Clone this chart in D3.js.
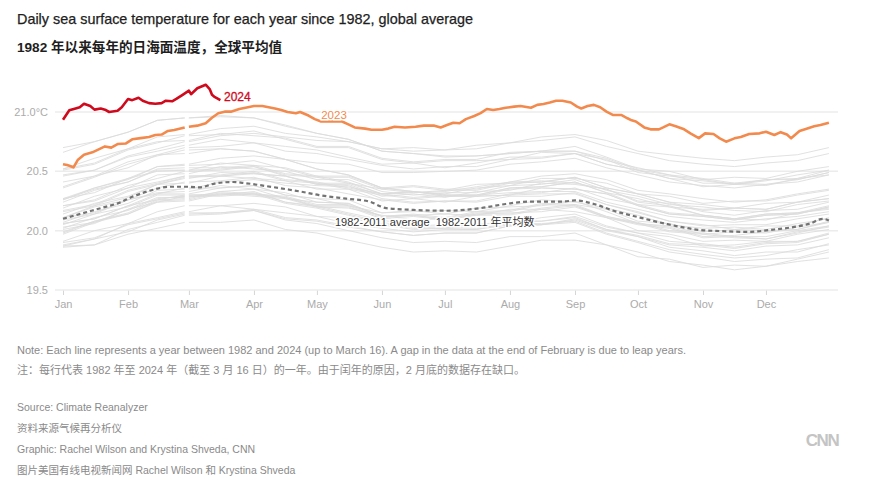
<!DOCTYPE html>
<html><head><meta charset="utf-8">
<script src="https://cdn.jsdelivr.net/npm/d3@7/dist/d3.min.js"></script>
<style>
body{margin:0;background:#fff;}
svg text{font-family:"Liberation Sans","Noto Sans CJK SC",Arial,sans-serif;white-space:pre;}
</style></head>
<body><svg id="c" width="870" height="492"></svg>
<script>
// ---- DATA ----
const monthNames = ["Jan","Feb","Mar","Apr","May","Jun","Jul","Aug","Sep","Oct","Nov","Dec"];
const monthStarts = [0,31,60,91,121,152,182,213,244,274,305,335];
const yTicks = [19.5,20.0,20.5,21.0];
const sampleDays = [0,15,31,45,58,60,75,91,106,121,136,152,167,182,197,213,228,244,259,274,289,305,320,335,350,365];

const y1982=[19.88,19.93,20.06,20.11,20.16,20.16,20.21,20.18,20.15,20.12,20.06,20.02,19.99,20.01,20.01,20.07,20.08,20.12,20.03,19.98,19.91,19.89,19.86,19.90,19.91,19.97];
const y1983=[20.02,20.11,20.17,20.27,20.29,20.29,20.30,20.33,20.24,20.21,20.15,20.09,20.04,20.05,20.04,20.09,20.08,20.11,20.01,19.95,19.86,19.83,19.79,19.82,19.82,19.89];
const y1984=[19.90,19.94,20.05,20.10,20.15,20.15,20.15,20.17,20.09,20.06,20.00,19.94,19.90,19.91,19.90,19.95,19.95,19.98,19.88,19.82,19.74,19.71,19.67,19.70,19.74,19.77];
const y1985=[19.86,19.88,19.97,20.02,20.07,20.07,20.07,20.09,20.01,19.98,19.92,19.86,19.82,19.83,19.82,19.87,19.92,19.92,19.88,19.78,19.76,19.69,19.71,19.70,19.76,19.82];
const y1986=[19.87,19.88,20.01,20.07,20.13,20.13,20.14,20.17,20.10,20.08,20.03,19.99,19.96,19.98,19.98,20.04,20.05,20.10,20.01,19.96,19.89,19.88,19.85,19.89,19.90,19.97];
const y1987=[19.98,20.08,20.15,20.26,20.27,20.27,20.33,20.31,20.29,20.22,20.22,20.12,20.14,20.11,20.16,20.17,20.23,20.22,20.18,20.08,20.06,19.99,20.01,20.00,20.01,20.07];
const y1988=[20.06,20.10,20.21,20.26,20.30,20.30,20.30,20.31,20.23,20.19,20.13,20.06,20.02,20.02,20.01,20.05,20.05,20.07,19.97,19.90,19.82,19.78,19.74,19.76,19.77,19.84];
const y1989=[19.87,19.93,19.99,20.09,20.14,20.14,20.15,20.18,20.11,20.09,20.04,19.99,19.96,19.98,19.98,20.04,20.05,20.09,20.00,19.95,19.88,19.86,19.83,19.87,19.88,19.94];
const y1990=[19.97,20.07,20.14,20.25,20.26,20.26,20.32,20.30,20.28,20.21,20.21,20.11,20.13,20.10,20.15,20.16,20.22,20.21,20.12,20.07,20.00,19.98,19.95,19.95,20.00,20.04];
const y1991=[20.03,20.07,20.18,20.28,20.28,20.28,20.33,20.35,20.27,20.24,20.23,20.12,20.13,20.14,20.13,20.18,20.18,20.21,20.11,20.05,20.02,19.94,19.95,19.93,19.98,20.04];
const y1992=[20.05,20.14,20.20,20.30,20.30,20.30,20.31,20.32,20.24,20.20,20.14,20.07,20.03,20.03,20.02,20.06,20.06,20.08,19.98,19.91,19.84,19.80,19.77,19.79,19.84,19.88];
const y1993=[19.91,20.00,20.06,20.16,20.21,20.21,20.21,20.23,20.20,20.12,20.11,20.05,20.01,20.02,20.06,20.06,20.11,20.14,20.04,19.98,19.95,19.87,19.88,19.91,19.91,19.98];
const y1994=[19.99,20.08,20.14,20.24,20.29,20.29,20.29,20.31,20.28,20.20,20.19,20.13,20.09,20.10,20.14,20.14,20.19,20.22,20.12,20.06,20.03,19.95,19.96,19.99,20.01,20.08];
const y1995=[20.09,20.14,20.26,20.32,20.33,20.33,20.38,20.35,20.32,20.24,20.23,20.12,20.13,20.09,20.13,20.13,20.18,20.16,20.11,20.00,19.97,19.91,19.92,19.91,19.97,20.01];
const y1996=[20.01,20.06,20.18,20.24,20.25,20.25,20.31,20.29,20.27,20.20,20.20,20.10,20.12,20.09,20.14,20.15,20.16,20.20,20.11,20.06,19.99,19.97,19.94,19.93,19.99,20.03];
const y1997=[20.07,20.16,20.23,20.34,20.35,20.35,20.41,20.43,20.40,20.38,20.37,20.31,20.32,20.33,20.37,20.41,20.46,20.48,20.43,20.34,20.31,20.27,20.24,20.26,20.31,20.35];
const y1998=[20.37,20.46,20.53,20.64,20.65,20.65,20.69,20.67,20.60,20.52,20.47,20.36,20.33,20.29,20.29,20.30,20.31,20.31,20.22,20.15,20.08,20.04,20.05,20.05,20.10,20.14];
const y1999=[20.11,20.15,20.26,20.31,20.36,20.36,20.36,20.38,20.30,20.27,20.21,20.15,20.17,20.14,20.19,20.20,20.21,20.25,20.16,20.06,20.04,19.97,19.99,19.98,20.03,20.07];
const y2000=[20.06,20.10,20.21,20.31,20.31,20.31,20.36,20.38,20.30,20.27,20.26,20.15,20.16,20.17,20.16,20.21,20.26,20.24,20.19,20.13,20.05,20.02,20.03,20.01,20.06,20.10];
const y2001=[20.11,20.21,20.28,20.39,20.40,20.40,20.46,20.44,20.42,20.35,20.35,20.25,20.27,20.24,20.29,20.30,20.36,20.35,20.31,20.21,20.14,20.12,20.09,20.13,20.14,20.20];
const y2002=[20.19,20.29,20.36,20.47,20.48,20.48,20.54,20.52,20.50,20.43,20.43,20.33,20.30,20.32,20.32,20.38,20.39,20.43,20.34,20.29,20.22,20.20,20.17,20.16,20.22,20.25];
const y2003=[20.27,20.32,20.44,20.50,20.51,20.51,20.57,20.55,20.48,20.46,20.41,20.31,20.33,20.30,20.30,20.36,20.37,20.41,20.32,20.22,20.20,20.13,20.10,20.14,20.15,20.21];
const y2004=[20.21,20.25,20.36,20.41,20.46,20.46,20.46,20.48,20.46,20.39,20.39,20.29,20.31,20.28,20.33,20.34,20.40,20.39,20.35,20.25,20.23,20.16,20.13,20.17,20.18,20.24];
const y2005=[20.24,20.34,20.41,20.52,20.53,20.53,20.53,20.55,20.53,20.46,20.46,20.36,20.38,20.35,20.35,20.41,20.42,20.40,20.35,20.24,20.21,20.13,20.10,20.14,20.15,20.19];
const y2006=[20.17,20.22,20.34,20.40,20.46,20.46,20.47,20.50,20.43,20.41,20.36,20.31,20.28,20.30,20.30,20.36,20.37,20.41,20.32,20.27,20.20,20.18,20.19,20.18,20.24,20.27];
const y2007=[20.26,20.35,20.41,20.51,20.51,20.51,20.52,20.54,20.46,20.39,20.38,20.27,20.24,20.25,20.24,20.29,20.29,20.32,20.22,20.16,20.08,20.05,20.01,20.04,20.04,20.11];
const y2008=[20.11,20.20,20.26,20.36,20.41,20.41,20.42,20.45,20.38,20.36,20.31,20.26,20.23,20.25,20.25,20.31,20.32,20.36,20.27,20.22,20.15,20.13,20.10,20.09,20.15,20.18];
const y2009=[20.14,20.23,20.29,20.39,20.44,20.44,20.49,20.48,20.46,20.40,20.40,20.31,20.33,20.31,20.36,20.38,20.44,20.44,20.40,20.31,20.29,20.23,20.25,20.25,20.30,20.34];
const y2010=[20.36,20.45,20.56,20.63,20.68,20.68,20.69,20.67,20.60,20.52,20.47,20.36,20.33,20.30,20.30,20.32,20.33,20.33,20.24,20.18,20.12,20.09,20.07,20.10,20.12,20.16];
const y2011=[20.16,20.21,20.33,20.39,20.45,20.45,20.46,20.49,20.42,20.40,20.35,20.30,20.27,20.29,20.29,20.35,20.36,20.35,20.31,20.21,20.14,20.12,20.09,20.13,20.14,20.20];
const y2012=[20.21,20.26,20.38,20.44,20.50,20.50,20.51,20.54,20.47,20.45,20.40,20.35,20.32,20.34,20.34,20.40,20.41,20.45,20.36,20.31,20.24,20.22,20.19,20.23,20.24,20.30];
const y2013=[20.26,20.36,20.43,20.54,20.55,20.55,20.56,20.59,20.52,20.45,20.45,20.35,20.37,20.34,20.39,20.40,20.41,20.45,20.36,20.31,20.24,20.17,20.19,20.18,20.24,20.27];
const y2014=[20.27,20.36,20.44,20.54,20.56,20.56,20.61,20.63,20.60,20.57,20.56,20.49,20.49,20.50,20.51,20.56,20.58,20.61,20.53,20.47,20.41,20.38,20.36,20.39,20.41,20.47];
const y2015=[20.46,20.51,20.63,20.69,20.75,20.75,20.80,20.82,20.79,20.76,20.75,20.69,20.70,20.68,20.72,20.74,20.79,20.81,20.76,20.67,20.64,20.61,20.59,20.62,20.64,20.70];
const y2016=[20.70,20.75,20.83,20.93,20.95,20.95,20.97,20.95,20.89,20.82,20.77,20.67,20.65,20.62,20.63,20.65,20.67,20.67,20.59,20.53,20.47,20.44,20.40,20.43,20.43,20.49];
const y2017=[20.51,20.56,20.68,20.74,20.80,20.80,20.81,20.84,20.77,20.70,20.70,20.60,20.57,20.59,20.59,20.60,20.66,20.65,20.56,20.51,20.44,20.37,20.39,20.38,20.44,20.47];
const y2018=[20.41,20.46,20.58,20.64,20.70,20.70,20.71,20.74,20.67,20.65,20.60,20.55,20.52,20.54,20.54,20.60,20.61,20.65,20.56,20.51,20.44,20.42,20.39,20.43,20.44,20.51];
const y2019=[20.52,20.61,20.69,20.79,20.81,20.81,20.86,20.88,20.82,20.79,20.75,20.69,20.67,20.68,20.69,20.74,20.76,20.79,20.71,20.65,20.59,20.56,20.54,20.57,20.59,20.65];
const y2020=[20.66,20.75,20.83,20.93,20.95,20.95,20.96,20.95,20.88,20.82,20.77,20.67,20.65,20.63,20.63,20.65,20.67,20.67,20.61,20.51,20.47,20.40,20.40,20.39,20.43,20.49];
const y2021=[20.47,20.51,20.62,20.67,20.72,20.72,20.77,20.74,20.71,20.68,20.62,20.56,20.57,20.53,20.57,20.62,20.62,20.65,20.60,20.49,20.46,20.43,20.39,20.42,20.47,20.51];
const y2022=[20.52,20.57,20.69,20.75,20.76,20.76,20.82,20.80,20.78,20.71,20.71,20.61,20.58,20.60,20.60,20.66,20.67,20.71,20.62,20.52,20.50,20.43,20.45,20.44,20.50,20.54];
const greyYears = [y1982,y1983,y1984,y1985,y1986,y1987,y1988,y1989,y1990,y1991,y1992,y1993,y1994,y1995,y1996,y1997,y1998,y1999,y2000,y2001,y2002,y2003,y2004,y2005,y2006,y2007,y2008,y2009,y2010,y2011,y2012,y2013,y2014,y2015,y2016,y2017,y2018,y2019,y2020,y2021,y2022];

const avgDays = [0,10,18,26,33,41,51,58,60,65,73,81,87,97,108,113,122,135,146,154,167,183,199,211,222,238,244,253,262,275,288,304,313,326,339,348,356,362,365];
const avgVals = [20.10,20.15,20.19,20.23,20.285,20.335,20.37,20.37,20.37,20.365,20.40,20.41,20.40,20.375,20.345,20.33,20.30,20.27,20.245,20.19,20.175,20.168,20.19,20.225,20.245,20.245,20.255,20.225,20.17,20.11,20.055,20.005,19.997,19.99,20.01,20.03,20.06,20.10,20.085];

const days2023 = [0,2,5,7,10,14,17,20,23,26,30,33,37,41,44,47,50,53,58,60,64,68,71,74,77,80,84,87,91,95,98,101,104,107,111,113,117,120,123,128,133,136,139,144,147,152,155,158,163,168,172,177,180,183,186,189,192,196,199,202,205,208,211,215,218,223,226,229,232,235,238,242,245,247,250,253,256,259,262,266,269,271,273,277,280,284,286,289,292,296,299,303,306,310,313,316,320,323,327,332,335,339,342,345,347,351,354,358,361,365];
const vals2023 = [20.56,20.553,20.534,20.595,20.64,20.66,20.685,20.71,20.70,20.73,20.735,20.77,20.78,20.79,20.806,20.81,20.84,20.848,20.87,20.876,20.885,20.905,20.952,20.99,21.003,21.003,21.025,21.036,21.05,21.05,21.04,21.03,21.017,21.00,20.99,21.00,20.97,20.94,20.92,20.92,20.92,20.896,20.87,20.86,20.85,20.85,20.86,20.876,20.87,20.876,20.885,20.885,20.87,20.89,20.91,20.905,20.94,20.966,20.99,21.025,21.017,21.025,21.036,21.045,21.05,21.036,21.06,21.067,21.08,21.095,21.095,21.08,21.045,21.03,21.05,21.06,21.04,21.003,20.975,20.975,20.947,20.93,20.92,20.87,20.854,20.854,20.87,20.896,20.88,20.854,20.82,20.78,20.82,20.815,20.778,20.75,20.778,20.79,20.815,20.82,20.834,20.806,20.83,20.81,20.778,20.84,20.857,20.88,20.89,20.91,20.94];

const days2024 = [0,3,6,8,10,13,15,18,20,22,26,28,31,33,36,38,41,44,47,49,52,54,57,60,61,64,66,68,70,71,72,75];
const vals2024 = [20.935,21.014,21.03,21.04,21.07,21.05,21.02,21.03,21.02,21.00,21.01,21.04,21.11,21.10,21.12,21.095,21.075,21.07,21.075,21.095,21.09,21.11,21.145,21.18,21.15,21.20,21.215,21.23,21.19,21.145,21.13,21.10];

// ---- CHART ----
const svg = d3.select("#c");
const x = d3.scaleLinear().domain([0,366]).range([63,831]);
const y = d3.scaleLinear().domain([19.5,21.0]).range([290,112]);
const gapDay = 59;

// title
svg.append("text").attr("x",17).attr("y",24).attr("font-size",14.4).attr("fill","#1e1e1e")
  .attr("stroke","#1e1e1e").attr("stroke-width",0.25)
  .text("Daily sea surface temperature for each year since 1982, global average");
svg.append("text").attr("x",17).attr("y",52).attr("font-size",13.6).attr("font-weight",700).attr("fill","#1e1e1e")
  .text("1982 年以来每年的日海面温度，全球平均值");

// gridlines
svg.append("g").selectAll("line").data(yTicks.filter(t=>t>19.5)).join("line")
  .attr("x1",55).attr("x2",838).attr("y1",d=>y(d)).attr("y2",d=>y(d))
  .attr("stroke","#ececec").attr("stroke-width",1.5);

// y axis
const yAxis = svg.append("g").attr("transform","translate(55,0)")
  .call(d3.axisLeft(y).tickValues(yTicks).tickSize(0).tickPadding(7)
    .tickFormat(d => d===21 ? "21.0°C" : d3.format(".1f")(d)));
yAxis.select(".domain").remove();
yAxis.selectAll("text").attr("font-size",11).attr("fill","#ababab").attr("font-family","Liberation Sans, Arial, sans-serif");

// x axis
const xAxis = svg.append("g").attr("transform","translate(0,290)")
  .call(d3.axisBottom(x).tickValues(monthStarts).tickSize(5).tickPadding(5)
    .tickFormat((d,i)=>monthNames[i]));
xAxis.select(".domain").remove();
xAxis.selectAll("line").attr("stroke","#d5d5d5");
xAxis.selectAll("text").attr("font-size",11).attr("fill","#ababab").attr("font-family","Liberation Sans, Arial, sans-serif");
svg.append("line").attr("x1",55).attr("x2",838).attr("y1",y(19.5)).attr("y2",y(19.5))
  .attr("stroke","#ececec").attr("stroke-width",1.5);

// helper to build points with leap-day gap
function pts(ds, vs){
  const out = [];
  ds.forEach((d,i)=>{
    if (i>0 && ds[i-1] < gapDay && d > gapDay) out.push({d:gapDay, v:null});
    out.push({d:d, v:vs[i]});
  });
  return out;
}
const line = d3.line().defined(p=>p.v!=null).x(p=>x(p.d)).y(p=>y(p.v));

// grey lines
svg.append("g").selectAll("path").data(greyYears).join("path")
  .attr("d", s => line(pts(sampleDays, s)))
  .attr("fill","none").attr("stroke","#dcdcdc").attr("stroke-width",1).attr("opacity",0.85);

// average dashed
svg.append("path").attr("d", d3.line().curve(d3.curveMonotoneX).x((d,i)=>x(d)).y((d,i)=>y(avgVals[i]))(avgDays))
  .attr("fill","none").attr("stroke","#737373").attr("stroke-width",2.2).attr("stroke-dasharray","4,3");
svg.append("text").attr("x",335).attr("y",226).attr("font-size",11).attr("fill","#333")
  .attr("stroke","#fff").attr("stroke-width",3).attr("paint-order","stroke")
  .text("1982-2011 average  1982-2011 年平均数");

// 2023
svg.append("path").attr("d", line(pts(days2023, vals2023)))
  .attr("fill","none").attr("stroke","#f38a4d").attr("stroke-width",2.6).attr("stroke-linejoin","round");
svg.append("text").attr("x",334).attr("y",119).attr("text-anchor","middle").attr("font-size",11.5).attr("fill","#f38a4d")
  .attr("stroke","#fff").attr("stroke-width",3).attr("paint-order","stroke").text("2023");

// 2024
svg.append("path").attr("d", d3.line().x((d)=>x(d)).y((d,i)=>y(vals2024[i]))(days2024))
  .attr("fill","none").attr("stroke","#cf0a1d").attr("stroke-width",2.6).attr("stroke-linejoin","round");
svg.append("text").attr("x",224).attr("y",101).attr("font-size",12).attr("fill","#cf0a1d")
  .attr("stroke","#cf0a1d").attr("stroke-width",0.3).text("2024");

// notes
const notes = [
  [17,354,"Note: Each line represents a year between 1982 and 2024 (up to March 16). A gap in the data at the end of February is due to leap years."],
  [17,374,"注：每行代表 1982 年至 2024 年（截至 3 月 16 日）的一年。由于闰年的原因，2 月底的数据存在缺口。"],
  [17,411,"Source: Climate Reanalyzer"],
  [17,432,"资料来源气候再分析仪"],
  [17,453,"Graphic: Rachel Wilson and Krystina Shveda, CNN"],
  [17,474,"图片美国有线电视新闻网 Rachel Wilson 和 Krystina Shveda"]
];
svg.append("g").selectAll("text").data(notes).join("text")
  .attr("x",d=>d[0]).attr("y",d=>d[1]).attr("font-size",(d,i)=>i<2?11:10.5).attr("fill","#8a8a8a").text(d=>d[2]);

svg.append("text").attr("x",822).attr("y",446).attr("text-anchor","middle").attr("font-size",17).attr("font-weight",700)
  .attr("letter-spacing",-1.5).attr("fill","#c4c4c4").text("CNN");
</script></body></html>
